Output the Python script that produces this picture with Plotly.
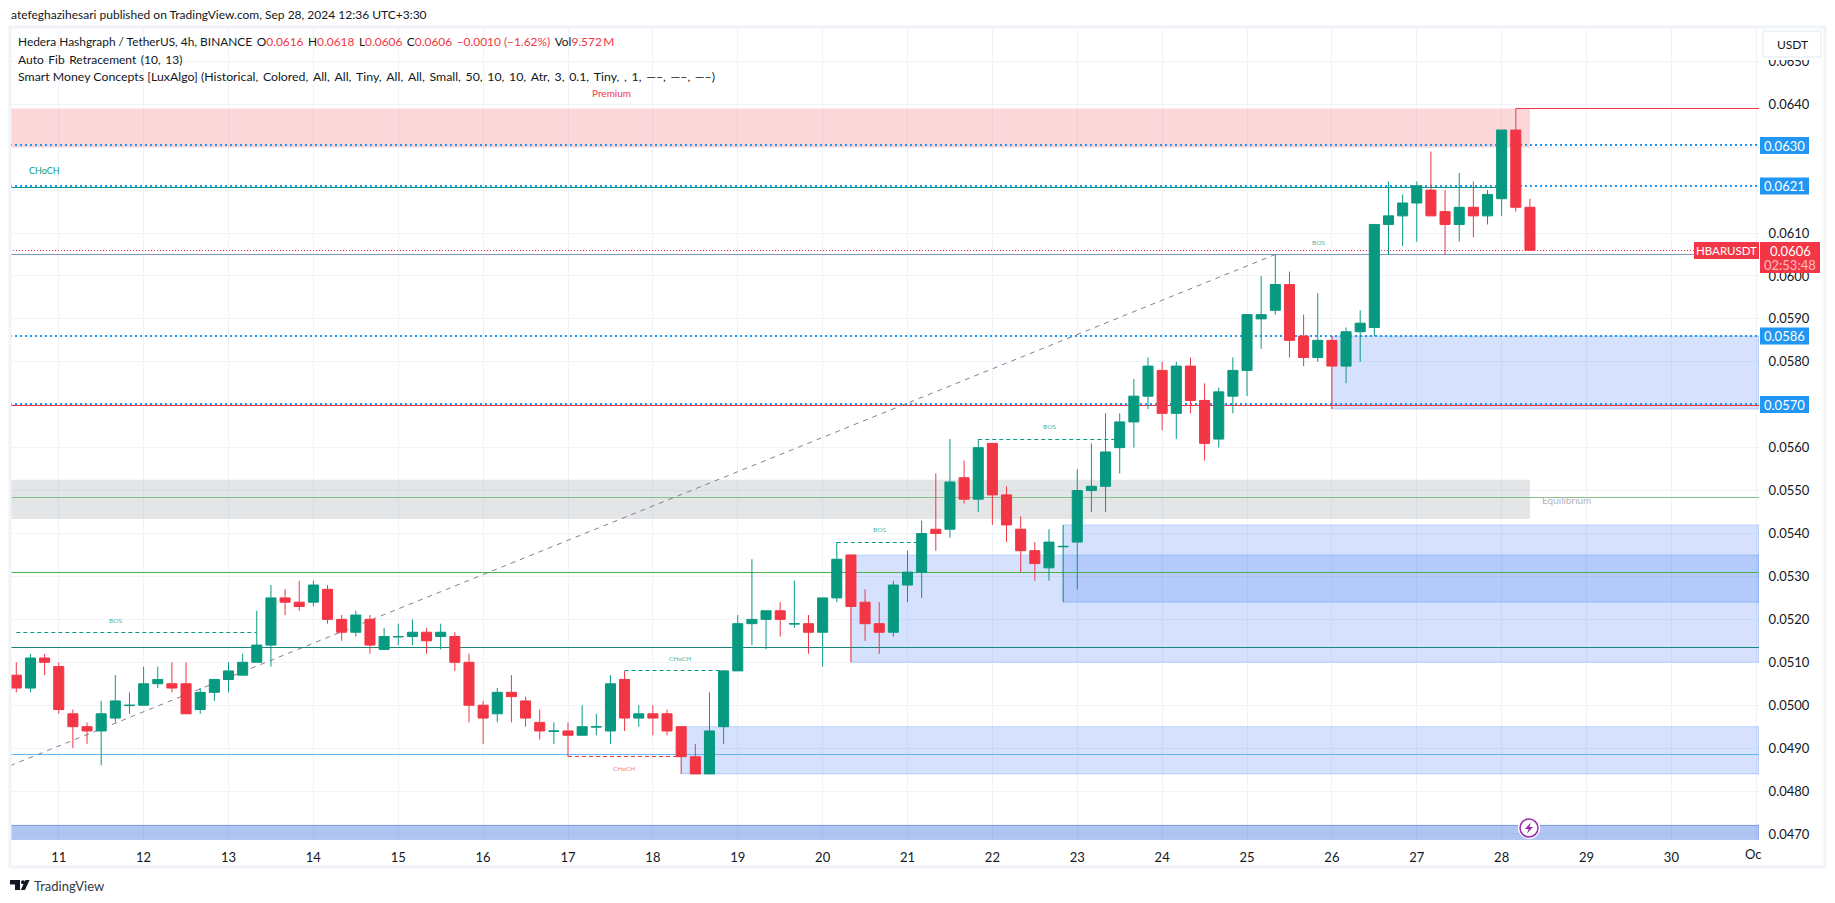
"""HBARUSDT 4h chart with Smart Money Concepts zones and auto fib levels."""
import math

import pandas as pd
import plotly.graph_objects as go

# candles, Sep 10 12:00 onward, one every 4h
bar_times = [str(t) for t in pd.date_range("2024-09-10 12:00", periods=108, freq="4h")]
opens = [.0507, .0504, .0511, .0509, .0498, .0495, .0494, .0497, .04999, .0500, .0505, .0505,
         .0505, .0499, .0503, .0506, .0507, .0510, .0514, .0525, .0524, .0524, .0527, .0520,
         .0517, .0520, .0513, .05159, .0516, .0517, .0516, .0516, .0510, .0500, .0498, .0503,
         .0501, .0496, .04939, .0494, .0493, .04949, .0494, .0506, .0497, .0498, .0498, .0495,
         .0488, .0484, .0495, .0508, .0519, .0520, .0522, .05189, .0519, .0517, .0525, .0535,
         .0524, .0519, .0517, .0528, .0531, .0541, .0541, .0553, .0548, .0561, .0549, .0541,
         .0536, .0532, .05369, .0538, .0550, .0551, .0560, .0566, .0572, .0578, .0568, .0579,
         .0571, .0562, .0572, .0578, .0590, .0592, .0598, .0586, .0581, .0585, .0579, .0587,
         .0588, .0612, .0614, .0617, .0620, .0615, .0612, .0616, .0614, .0618, .0634, .0616]
highs = [.0510, .0512, .0512, .0510, .0499, .0496, .0501, .0507, .0503, .0509, .0509, .0510,
         .0510, .0504, .0506, .0510, .0512, .0522, .0528, .0527, .0529, .0529, .0528, .0521,
         .0522, .0521, .0518, .0519, .0520, .0518, .0519, .0517, .0512, .0501, .0504, .0507,
         .0502, .0499, .0496, .0496, .0500, .0498, .0507, .0508, .0500, .0500, .0499, .0495,
         .0491, .0503, .0508, .0521, .0534, .0522, .0524, .0529, .0521, .0525, .0538, .0535,
         .0527, .0524, .0529, .0536, .0543, .0554, .0562, .0557, .0562, .0561, .0551, .0544,
         .0538, .0541, .0542, .0555, .0561, .0568, .0568, .0576, .0581, .0580, .0580, .0581,
         .0575, .0574, .0581, .0591, .0600, .0605, .0601, .0591, .0596, .0586, .0588, .0592,
         .0612, .0622, .0619, .0622, .0629, .0620, .0624, .0622, .0620, .0634, .0639, .0618]
lows = [.0503, .0503, .0507, .0498, .0490, .0491, .0486, .0496, .0498, .0500, .0504, .0503,
        .0498, .0498, .0501, .0503, .0507, .0510, .0509, .0521, .0522, .0523, .0519, .0515,
        .0516, .0512, .0513, .0514, .0514, .0512, .0513, .0508, .0496, .0491, .0496, .0496,
        .0495, .0492, .0491, .0488, .0493, .0493, .0491, .0494, .0495, .0493, .0493, .0484,
        .0484, .0484, .0491, .0508, .0514, .0513, .0516, .0518, .0512, .0509, .0524, .0510,
        .0515, .0512, .0516, .0524, .0525, .0536, .0539, .0547, .0545, .0542, .0538, .0531,
        .0529, .0529, .0524, .0527, .0545, .0545, .0554, .0560, .0569, .0564, .0562, .0568,
        .0557, .0560, .0568, .0572, .0583, .0591, .0581, .0579, .0580, .0569, .0575, .0580,
        .0586, .0605, .0607, .0608, .0614, .0605, .0608, .0609, .0612, .0614, .0615, .0606]
closes = [.0504, .0511, .0510, .0499, .0495, .0494, .0498, .0501, .0500, .0505, .0506, .0504,
          .0498, .0503, .0506, .0508, .0510, .0514, .0525, .0524, .0523, .0528, .0520, .0517,
          .0521, .0514, .0516, .0516, .0517, .0515, .0517, .0510, .0500, .0497, .0503, .0502,
          .0497, .0494, .0494, .0493, .0495, .0495, .0505, .0497, .0498, .0497, .0494, .0488,
          .0484, .0494, .0508, .0519, .0520, .0522, .0520, .0519, .0517, .0525, .0534, .0523,
          .0519, .0517, .0528, .0531, .0540, .0540, .0552, .0548, .0560, .0549, .0542, .0536,
          .0533, .0538, .0537, .0550, .0551, .0559, .0566, .0572, .0579, .0568, .0579, .0571,
          .0561, .0573, .0578, .0591, .0591, .0598, .0585, .0581, .0585, .0579, .0587, .0589,
          .0612, .0614, .0617, .0621, .0614, .0612, .0616, .0614, .0619, .0634, .0616, .0606]

day_ticks = [f"2024-09-{d}" for d in range(11, 31)] + ["2024-10-01"]
day_labels = [str(d) for d in range(11, 31)] + [""]
price_ticks = [round(0.047 + i * 0.001, 3) for i in range(19)]
boxed_ticks = [0.063, 0.062, 0.057]  # sit under the coloured price boxes
price_labels = ["" if p in boxed_ticks else f"{p:.4f}" for p in price_ticks]
fib_levels = [.06305, .06210, .05860, .05702]

GREEN = "#089981"
RED = "#f23645"
BLUE = "#2196f3"
GRID = "#f0f3fa"
TEXT = "#131722"
SOFT_GREEN = "#4db6a3"
FONT = "Lato"

W, H = 1835, 903
LEFT, RIGHT, TOP, BOTTOM = 10, 1759, 27, 840
Y_MIN, Y_MAX = .04686, .0658
X_START, X_END = "2024-09-10 10:13", "2024-10-01 00:46"


def px(x):
    return (x - LEFT) / (RIGHT - LEFT)


def py(y):
    return (BOTTOM - y) / (BOTTOM - TOP)


def snap(price, width):
    # keep thin lines on whole pixels so they stay crisp
    scale = (BOTTOM - TOP) / (Y_MAX - Y_MIN)
    y = TOP + (Y_MAX - price) * scale
    y = round(y) if width % 2 == 0 else math.floor(y) + 0.5
    return Y_MAX - (y - TOP) / scale


shapes = []
annotations = []


def zone(x0, x1, top, bottom, fill, edge=None):
    shapes.append(dict(type="rect", xref="x", yref="y", x0=x0, x1=x1, y0=bottom, y1=top,
                       fillcolor=fill, line=dict(width=1 if edge else 0, color=edge or fill),
                       layer="between"))


def level(x0, x1, price, color, width=1, dash="solid"):
    price = snap(price, width)
    shapes.append(dict(type="line", xref="x", yref="y", x0=x0, x1=x1, y0=price, y1=price,
                       line=dict(color=color, width=width, dash=dash), layer="between"))


def screen_rect(x0, y0, x1, y1, fill, line=None, width=0):
    shapes.append(dict(type="rect", xref="paper", yref="paper", x0=px(x0), x1=px(x1),
                       y0=py(y1), y1=py(y0), fillcolor=fill,
                       line=dict(color=line or fill, width=width), layer="above"))


def screen_path(points, fill):
    path = "M" + " L".join(f"{px(x):.5f},{py(y):.5f}" for x, y in points) + " Z"
    shapes.append(dict(type="path", xref="paper", yref="paper", path=path, fillcolor=fill,
                       line=dict(width=0), layer="above"))


def label(x, y, text, size=9, color=TEXT, anchor="center"):
    annotations.append(dict(xref="paper", yref="paper", x=px(x), y=py(y), text=text,
                            showarrow=False, xanchor=anchor, yanchor="middle",
                            font=dict(family=FONT, size=size, color=color)))


# zones
blue_fill = "rgba(33,100,243,0.185)"
blue_edge = "rgba(33,100,243,0.22)"
zone(X_START, bar_times[107], .0639, .0630, "rgba(242,54,69,0.2)")
zone(X_START, bar_times[107], .05525, .05434, "rgba(120,123,134,0.2)")
zone(bar_times[59], X_END, .0535, .0510, blue_fill, blue_edge)
zone(bar_times[74], X_END, .0542, .0524, blue_fill, blue_edge)
zone(bar_times[47], X_END, .0495, .0484, blue_fill, blue_edge)
zone(bar_times[93], X_END, .0586, .0569, blue_fill, blue_edge)
zone(X_START, X_END, .0472, .0460, "rgba(41,98,220,0.37)", "#7a95e0")

# fib levels and structure lines
level(X_START, X_END, .05484, "#85bf8a")
level(X_START, X_END, .05309, "#4caf50")
level(X_START, X_END, .05135, "#17867a")
level(X_START, X_END, .04886, "#64b5f6")
level(X_START, X_END, .0605, "#8496c2")
level(X_START, bar_times[105], .06207, GREEN)
level(X_START, X_END, .05698, RED)
level(bar_times[106], X_END, .0639, RED)
for price in fib_levels:
    level(X_START, X_END, price, BLUE, width=2, dash="2px,3px")
level(X_START, X_END, .0606, RED, width=1, dash="1px,2px")

# BOS / CHoCH dashes
level(bar_times[0], bar_times[17], .0517, GREEN, dash="4px,3px")
level(bar_times[39], bar_times[47], .0488, RED, dash="4px,3px")
level(bar_times[43], bar_times[50], .0508, GREEN, dash="4px,3px")
level(bar_times[58], bar_times[64], .0538, GREEN, dash="4px,3px")
level(bar_times[68], bar_times[78], .0562, GREEN, dash="4px,3px")

# fib trend line
shapes.append(dict(type="line", xref="x", yref="y", x0=X_START, x1=bar_times[89],
                   y0=.04859, y1=.0605, layer="between",
                   line=dict(color="#80838c", width=1, dash="5px,5px")))

# frame round the chart
screen_rect(10, 27, 1825, 867, "rgba(0,0,0,0)", GRID, 3)

# price labels on the axis
for price_text, y in [("0.0630", 145.5), ("0.0621", 186), ("0.0586", 336), ("0.0570", 404.5)]:
    screen_rect(1760, y - 8.5, 1809, y + 8.5, BLUE)
    label(1784.5, y, price_text, 13, "white")
screen_rect(1694, 242, 1759, 259, RED)
label(1726.5, 250.5, "HBARUSDT", 11.5, "white")
screen_rect(1760, 242, 1820, 273, RED)
label(1790, 251, "0.0606", 13, "white")
label(1790, 265, "02:53:48", 13, "#fbbcc1")

# currency button, it clips the top of the 0.0650 tick
screen_rect(1763, 57, 1821, 60, "white")
screen_rect(1763, 31, 1821, 57, "white", GRID, 2)
label(1792, 44, "USDT", 12, TEXT)

# publish line and legend
label(9, 15, "atefeghazihesari published on TradingView.com, Sep 28, 2024 12:36 UTC+3:30",
      12, TEXT, "left")
GAP = "\u00a0\u2009"
WIDE = "\u00a0\u2009"
vals = (f"O<span style='color:{RED}'>0.0616</span>{GAP}H<span style='color:{RED}'>0.0618</span>"
        f"{GAP}L<span style='color:{RED}'>0.0606</span>{GAP}C<span style='color:{RED}'>0.0606</span>"
        f"{GAP}<span style='color:{RED}'>\u22120.0010 (\u22121.62%)</span>"
        f"{GAP}Vol<span style='color:{RED}'>9.572\u2009M</span>")
label(16, 42, "Hedera Hashgraph / TetherUS, 4h, BINANCE" + GAP + vals, 11.9, TEXT, "left")
label(16, 59.5, "Auto Fib Retracement (10, 13)".replace(" ", WIDE), 12, TEXT, "left")
smc_args = ("(Historical, Colored, All, All, Tiny, All, All, Small, 50, 10, 10, Atr, 3, 0.1, "
            "Tiny, , 1, \u2014\u2013, \u2014\u2013, \u2014\u2013)").replace(", ", "," + WIDE)
label(16, 76.5, "Smart Money Concepts [LuxAlgo] " + smc_args, 12.3, TEXT, "left")

# small chart labels
label(611, 92.5, "Premium", 10, RED)
label(1566, 500, "Equilibrium", 10, "#b2b5be")
label(44, 170.5, "CHoCH", 9, GREEN)
label(115.5, 620.5, "BOS", 6.5, SOFT_GREEN)
label(624, 768.5, "CHoCH", 6.5, "#f77c87")
label(680, 658.5, "CHoCH", 6.5, SOFT_GREEN)
label(879, 529.5, "BOS", 6.5, SOFT_GREEN)
label(1049, 426.5, "BOS", 6.5, SOFT_GREEN)
label(1318, 242.5, "BOS", 6.5, SOFT_GREEN)
label(1743, 854, "Oc", 13, TEXT, "left")

# TradingView logo
screen_path([(10, 880), (20, 880), (20, 890), (15, 890), (15, 884.5), (10, 884.5)], TEXT)
screen_path([(25.4, 880), (29.6, 880), (25, 890), (20.8, 890)], TEXT)
shapes.append(dict(type="circle", xref="paper", yref="paper", x0=px(21), x1=px(25),
                   y0=py(884.3), y1=py(880.3), fillcolor=TEXT, line=dict(width=0), layer="above"))
label(32, 885.5, "TradingView", 13, "#363a45", "left")

# bolt marker
shapes.append(dict(type="circle", xref="paper", yref="paper", x0=px(1518), x1=px(1540),
                   y0=py(839), y1=py(817), fillcolor="white", line=dict(width=0), layer="above"))
shapes.append(dict(type="circle", xref="paper", yref="paper", x0=px(1520), x1=px(1538),
                   y0=py(837), y1=py(819), fillcolor="white",
                   line=dict(color="#9c27b0", width=1.5), layer="above"))
screen_path([(1530.8, 822.5), (1525, 829), (1528.6, 829), (1527, 833.5),
             (1533, 827), (1529.4, 827)], "#9c27b0")

fig = go.Figure(go.Candlestick(
    x=bar_times, open=opens, high=highs, low=lows, close=closes,
    increasing=dict(line=dict(color=GREEN, width=1), fillcolor=GREEN),
    decreasing=dict(line=dict(color=RED, width=1), fillcolor=RED),
    whiskerwidth=0, showlegend=False,
))
fig.update_layout(
    width=W, height=H, margin=dict(l=LEFT, r=W - RIGHT, t=TOP, b=H - BOTTOM),
    paper_bgcolor="white", plot_bgcolor="white", showlegend=False,
    boxmode="group", boxgap=0.29, boxgroupgap=0,
    shapes=shapes, annotations=annotations,
    font=dict(family=FONT, size=13, color=TEXT),
    xaxis=dict(type="date", range=[X_START, X_END], rangeslider=dict(visible=False),
               tickmode="array", tickvals=day_ticks, ticktext=day_labels, showgrid=True,
               gridcolor=GRID, gridwidth=1, zeroline=False, showline=False,
               ticks="outside", ticklen=5, tickcolor="white"),
    yaxis=dict(side="right", range=[Y_MIN, Y_MAX], tickmode="array", tickvals=price_ticks,
               ticktext=price_labels, showgrid=True, gridcolor=GRID, gridwidth=1,
               zeroline=False, showline=False, ticks="outside", ticklen=6, tickcolor="white"),
)
fig.write_html("out.html", config={"displayModeBar": False},
               post_script="document.body.style.margin='0';")
